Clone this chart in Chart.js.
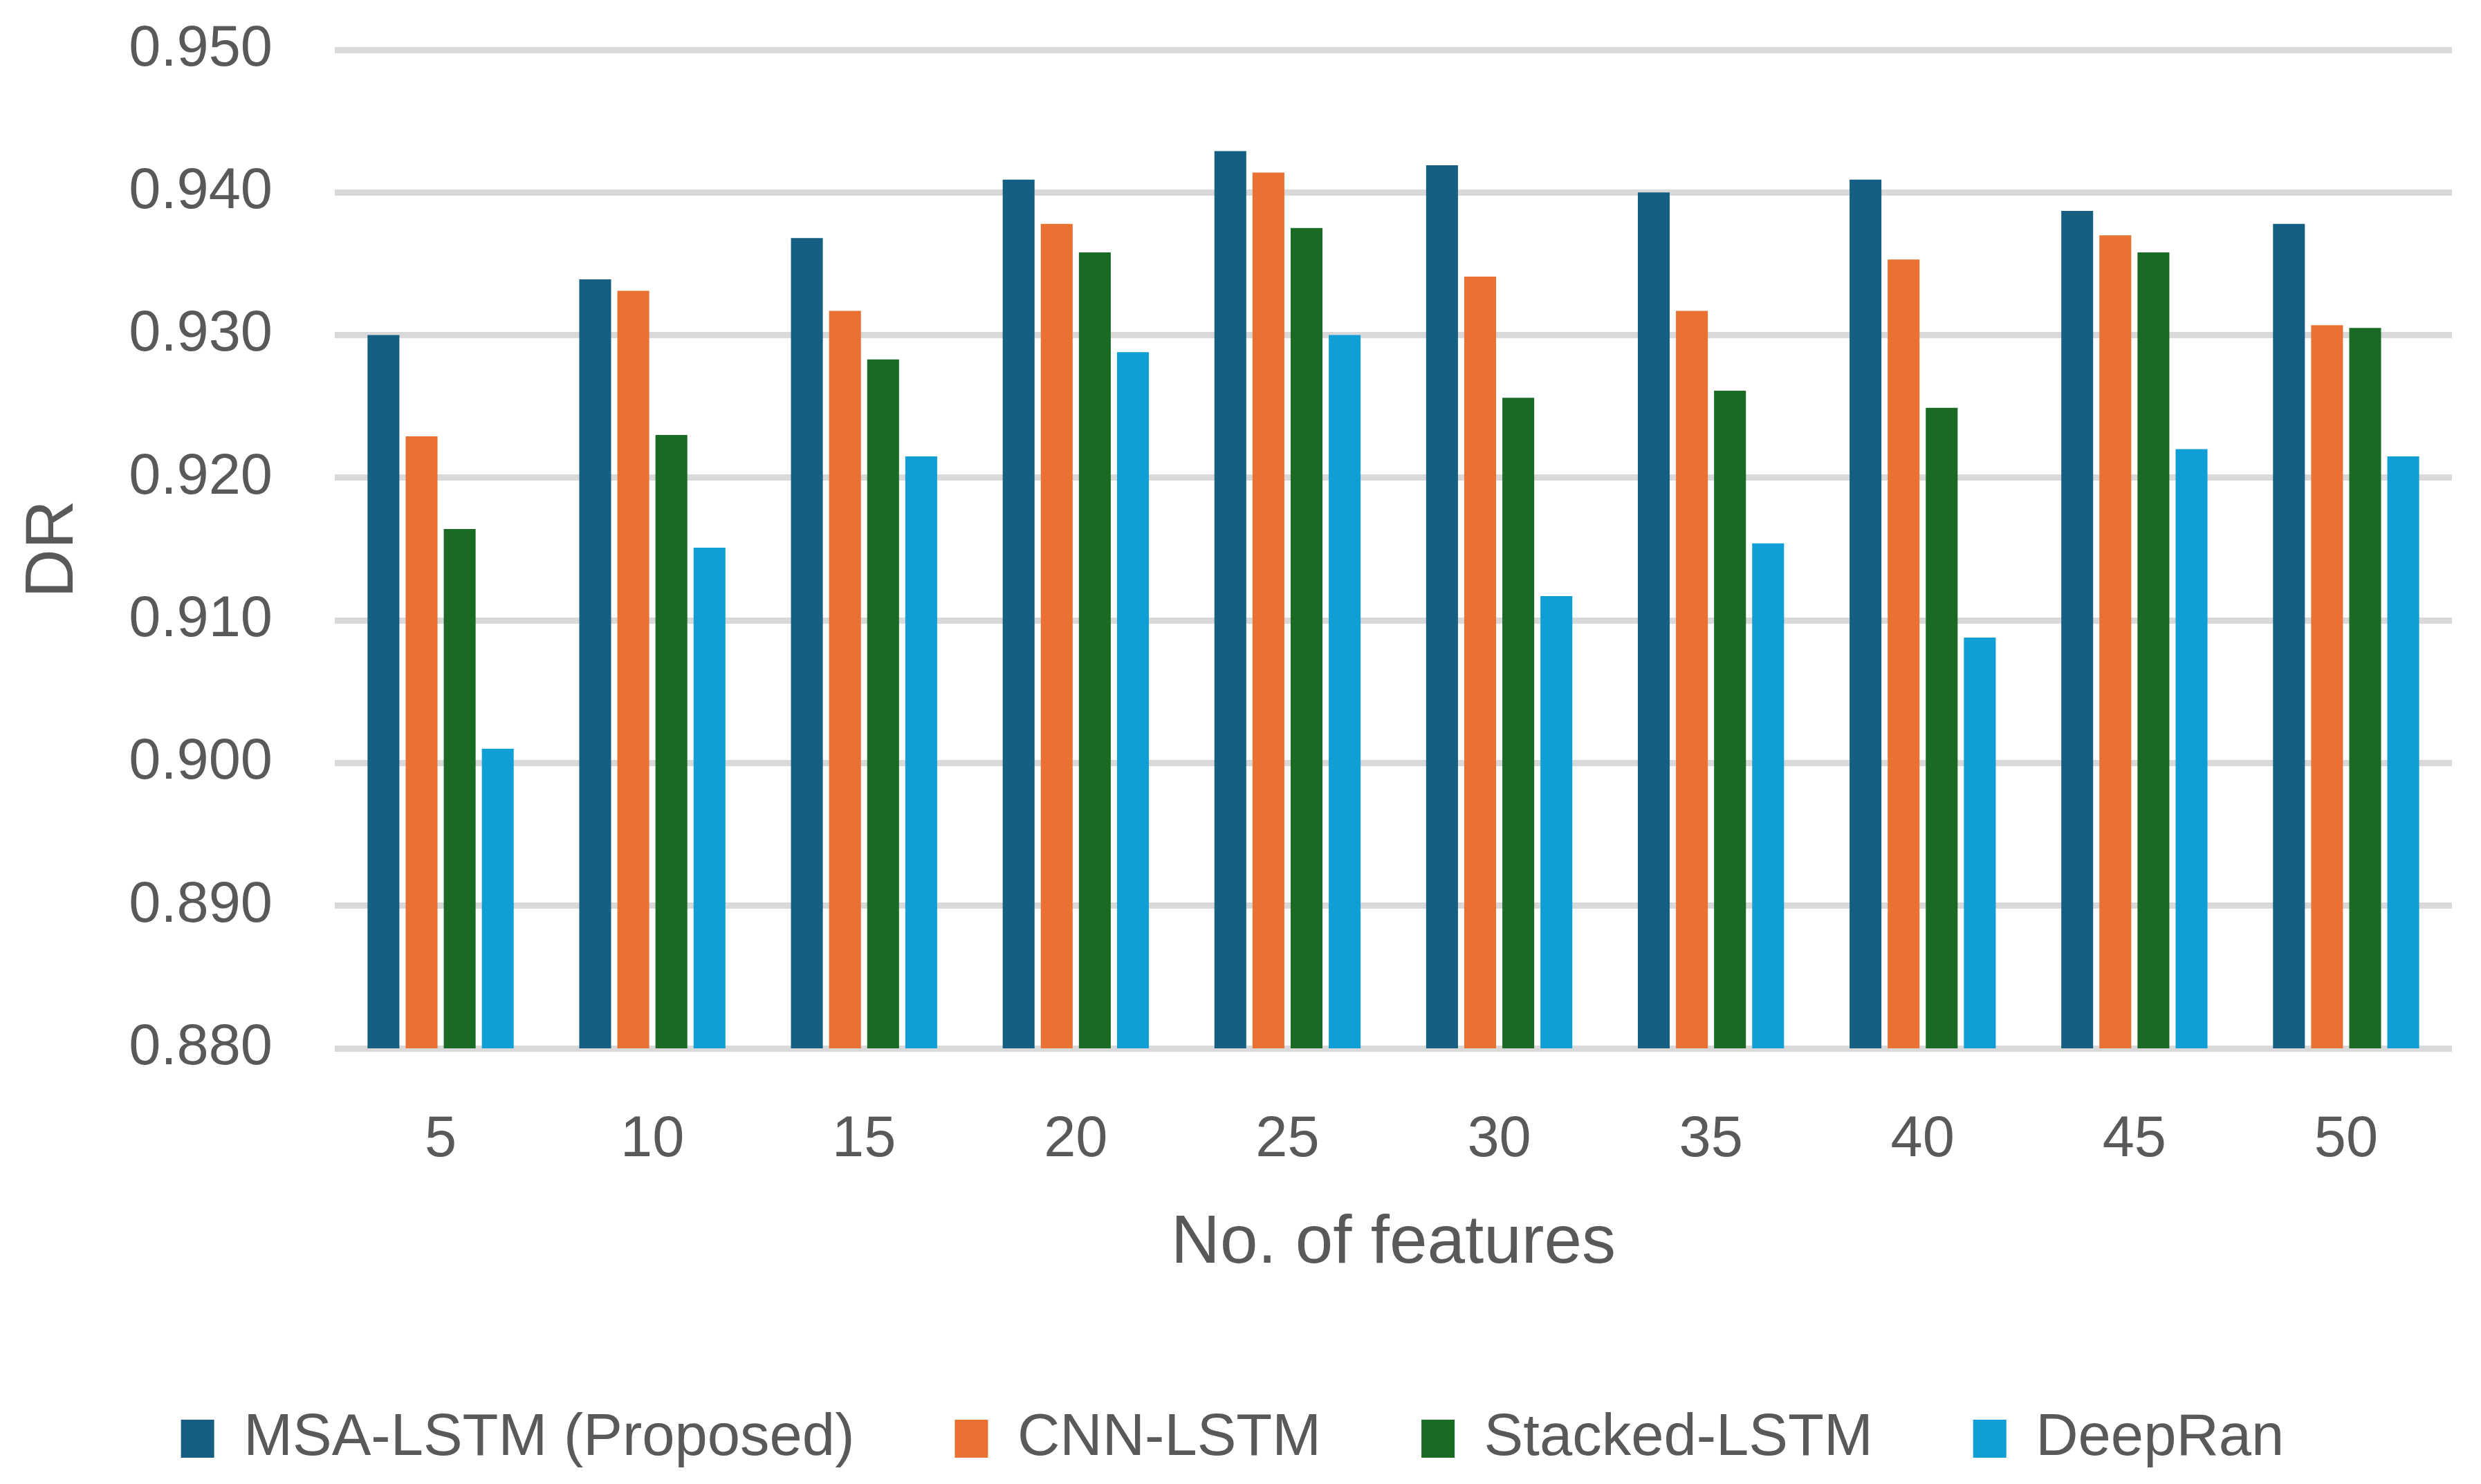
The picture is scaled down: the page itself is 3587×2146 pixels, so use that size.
<!DOCTYPE html>
<html>
<head>
<meta charset="utf-8">
<script src="https://cdn.jsdelivr.net/npm/chart.js@4.4.1/dist/chart.umd.min.js"></script>
<style>
  html, body { margin: 0; padding: 0; background: #fff; }
  #wrap { width: 3587px; height: 2146px; position: relative; }
</style>
</head>
<body>
<div id="wrap"><canvas id="dr-chart"></canvas></div>
<script>
// values
const features = ['5', '10', '15', '20', '25', '30', '35', '40', '45', '50'];
const msaLstm     = [0.9300, 0.9339, 0.9368, 0.9409, 0.9429, 0.9419, 0.9400, 0.9409, 0.9387, 0.9378];
const cnnLstm     = [0.9229, 0.9331, 0.9317, 0.9378, 0.9414, 0.9341, 0.9317, 0.9353, 0.9370, 0.9307];
const stackedLstm = [0.9164, 0.9230, 0.9283, 0.9358, 0.9375, 0.9256, 0.9261, 0.9249, 0.9358, 0.9305];
const deepRan     = [0.9010, 0.9151, 0.9215, 0.9288, 0.9300, 0.9117, 0.9154, 0.9088, 0.9220, 0.9215];
const yTicks = [0.880, 0.890, 0.900, 0.910, 0.920, 0.930, 0.940, 0.950];

const textColor = '#595959';
const fontFamily = '"Liberation Sans", Arial, sans-serif';

function series(label, data, color) {
    return { label: label, data: data, backgroundColor: color, borderWidth: 0,
             categoryPercentage: 0.72, barPercentage: 0.836 };
}

const ctx = document.getElementById('dr-chart').getContext('2d');
const chart = new Chart(ctx, {
    type: 'bar',
    data: {
        labels: features,
        datasets: [
            series('MSA-LSTM (Proposed)', msaLstm, '#156082'),
            series('CNN-LSTM', cnnLstm, '#E97132'),
            series('Stacked-LSTM', stackedLstm, '#196B24'),
            series('DeepRan', deepRan, '#0F9ED5')
        ]
    },
    options: {
        responsive: true,
        maintainAspectRatio: false,
        devicePixelRatio: 1,
        animation: false,
        layout: { padding: { left: 19, right: 42, top: 72, bottom: 13 } },
        plugins: {
            tooltip: { enabled: false },
            legend: {
                position: 'bottom',
                labels: {
                    color: textColor,
                    font: { family: fontFamily, size: 85 },
                    boxWidth: 48,
                    boxHeight: 55,
                    padding: 145
                }
            }
        },
        scales: {
            x: {
                grid: { display: false },
                border: { display: false },
                ticks: { color: textColor, font: { family: fontFamily, size: 83 }, padding: 75 },
                title: {
                    display: true,
                    text: 'No. of features',
                    color: textColor,
                    font: { family: fontFamily, size: 98 },
                    padding: { top: 0, bottom: 35 }
                },
                afterFit: function(scale) { scale.height = 377; }
            },
            y: {
                min: yTicks[0],
                max: yTicks[yTicks.length - 1],
                afterBuildTicks: function(scale) {
                    scale.ticks = yTicks.map(v => ({ value: v }));
                },
                grid: { color: '#D9D9D9', lineWidth: 9, drawTicks: false },
                border: { display: false },
                ticks: {
                    color: textColor,
                    font: { family: fontFamily, size: 83 },
                    padding: 90,
                    callback: function(value) { return Number(value).toFixed(3); }
                },
                title: {
                    display: true,
                    text: 'DR',
                    color: textColor,
                    font: { family: fontFamily, size: 98 },
                    padding: { top: 0, bottom: 0 }
                },
                afterFit: function(scale) {
                    // the label padding would otherwise push the plot top down
                    scale.width = 465;
                    scale.paddingTop = 0;
                    scale.paddingBottom = 0;
                }
            }
        }
    }
});
</script>
</body>
</html>
